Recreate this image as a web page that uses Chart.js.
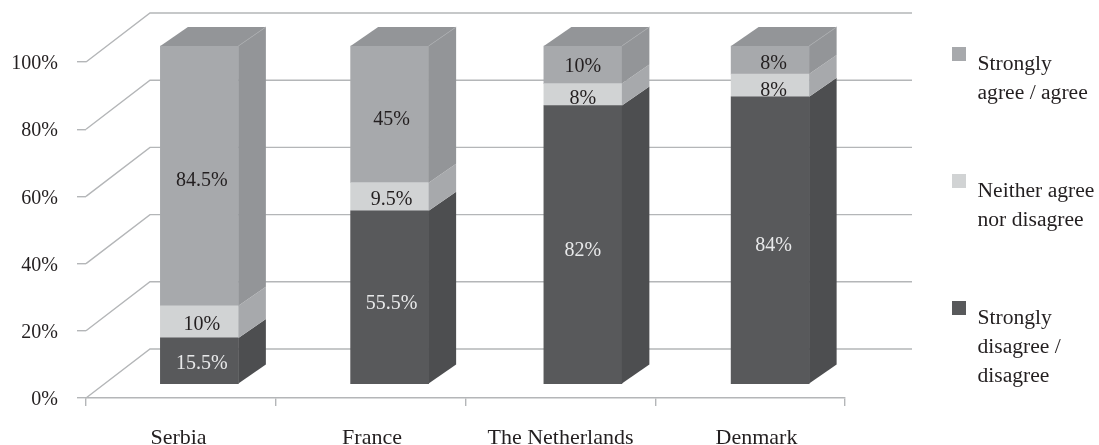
<!DOCTYPE html>
<html>
<head>
<meta charset="utf-8">
<script src="https://cdn.jsdelivr.net/npm/chart.js@4"></script>
<style>html,body{margin:0;padding:0;background:#fff}canvas{display:block}</style>
</head>
<body>
<canvas id="c" width="1099" height="445"></canvas>
<script>
// Categories and printed labels
const categories = ["Serbia", "France", "The Netherlands", "Denmark"];
const seriesNames = ["Strongly disagree / disagree", "Neither agree nor disagree", "Strongly agree / agree"];
const disagreeLabels = ["15.5%", "55.5%", "82%", "84%"];
const neitherLabels = ["10%", "9.5%", "8%", "8%"];
const agreeLabels = ["84.5%", "45%", "10%", "8%"];
// Bar segment heights as drawn on the 100% axis
const disagreeValues = [13.7, 51.3, 82.4, 85.0];
const neitherValues = [9.5, 8.3, 6.5, 6.7];
const agreeValues = [76.8, 40.4, 11.1, 8.3];
const yTicks = [0, 20, 40, 60, 80, 100];

const FONT = '"Liberation Serif", serif';
const TEXT = '#231f20';
const GRID = '#b4b6b8';
const depth = {x: 27.5, y: -19};          // bar depth
const wall = {x: 64, y: -49, right: 912}; // chart wall depth
const front = {k: 338.3 / 336, bottom: 384.3}; // front plane mapping of bars
const barNudge = [18.5, 19, 22.5, 20];
const xLabelCentre = [178.5, 372, 560.5, 756.5];
const labelDx = [2.5, 2, 0, 3.5];
const labelDy = [[2.5, 6.5, 6, 5.5], [3, 3.3, 4, 5.6], [4.4, 5.8, 2.3, 4]];
const faces = [
  {front: '#58595b', side: '#4d4e50', text: '#e8e9ea'},
  {front: '#d1d3d4', side: '#a7a9ac', text: TEXT},
  {front: '#a7a9ac', side: '#939598', text: TEXT, top: '#939598'}
];
const valueLabels = [disagreeLabels, neitherLabels, agreeLabels];
const legendRows = [
  {face: 2, y: 47, lines: ["Strongly", "agree / agree"]},
  {face: 1, y: 174, lines: ["Neither agree", "nor disagree"]},
  {face: 0, y: 301, lines: ["Strongly", "disagree /", "disagree"]}
];

function poly(ctx, pts, fill) {
  ctx.beginPath();
  pts.forEach((p, i) => i ? ctx.lineTo(p[0], p[1]) : ctx.moveTo(p[0], p[1]));
  ctx.closePath();
  ctx.fillStyle = fill;
  ctx.fill();
}

const threeD = {
  id: 'threeD',
  afterDatasetsUpdate(chart) {
    const zero = chart.scales.y.getPixelForValue(0);
    const f = front.bottom - zero * front.k;
    chart.data.datasets.forEach((d, di) => {
      chart.getDatasetMeta(di).data.forEach((el, i) => {
        el.x += barNudge[i];
        el.y = el.y * front.k + f;
        el.base = el.base * front.k + f;
      });
    });
  },
  beforeDraw(chart) {
    // place the library's tick labels where the reference has them
    chart.scales.y.getLabelItems().forEach(it => { it.options.translation[1] += 2; });
    chart.scales.x.getLabelItems().forEach((it, i) => {
      it.options.translation[0] = xLabelCentre[i];
      it.options.translation[1] = 425;
    });
  },
  beforeDatasetsDraw(chart) {
    const {ctx, chartArea: a, scales: {y}} = chart;
    ctx.save();
    ctx.strokeStyle = GRID;
    ctx.lineWidth = 1.4;
    yTicks.forEach(v => {
      const py = y.getPixelForValue(v);
      ctx.beginPath();
      ctx.moveTo(a.left, py);
      ctx.lineTo(a.left + wall.x, py + wall.y);
      ctx.lineTo(wall.right, py + wall.y);
      ctx.stroke();
    });
    ctx.restore();
  },
  afterDatasetsDraw(chart) {
    const {ctx} = chart;
    ctx.save();
    const n = chart.data.datasets.length;
    chart.data.datasets.forEach((d, di) => {
      const style = faces[di];
      chart.getDatasetMeta(di).data.forEach(el => {
        const r = el.x + el.width / 2;
        poly(ctx, [[r, el.base], [r + depth.x, el.base + depth.y], [r + depth.x, el.y + depth.y], [r, el.y]], style.side);
        if (di === n - 1) {
          const l = el.x - el.width / 2;
          poly(ctx, [[l, el.y], [l + depth.x, el.y + depth.y], [r + depth.x, el.y + depth.y], [r, el.y]], style.top);
          ctx.strokeStyle = '#a7a9ac';
          ctx.lineWidth = 0.8;
          ctx.beginPath();
          ctx.moveTo(r, el.y);
          ctx.lineTo(r + depth.x, el.y + depth.y);
          ctx.stroke();
        }
      });
    });
    ctx.font = '20px ' + FONT;
    ctx.textAlign = 'center';
    ctx.textBaseline = 'middle';
    chart.data.datasets.forEach((d, di) => {
      ctx.fillStyle = faces[di].text;
      chart.getDatasetMeta(di).data.forEach((el, i) => {
        ctx.fillText(valueLabels[di][i], el.x + labelDx[i], (el.y + el.base) / 2 + labelDy[di][i]);
      });
    });
    ctx.font = '21.6px ' + FONT;
    ctx.textAlign = 'left';
    legendRows.forEach(row => {
      ctx.fillStyle = faces[row.face].front;
      ctx.fillRect(952, row.y, 14, 14);
      ctx.fillStyle = TEXT;
      row.lines.forEach((t, j) => ctx.fillText(t, 977.5, row.y + 17 + j * 29));
    });
    ctx.restore();
  }
};

new Chart(document.getElementById('c'), {
  type: 'bar',
  data: {
    labels: categories,
    datasets: [disagreeValues, neitherValues, agreeValues].map((values, i) => ({
      label: seriesNames[i],
      data: values,
      backgroundColor: faces[i].front,
      borderWidth: 0,
      barThickness: 78,
      clip: false
    }))
  },
  options: {
    responsive: false,
    animation: false,
    events: [],
    layout: {padding: {left: 0, top: 62, right: 254, bottom: 0}},
    plugins: {legend: {display: false}, tooltip: {enabled: false}, title: {display: false}},
    scales: {
      x: {
        stacked: true,
        afterFit(s) { s.height = 47; },
        ticks: {display: true, autoSkip: false, maxRotation: 0, color: TEXT, font: {family: FONT, size: 22}},
        border: {display: true, color: GRID, width: 1.4},
        grid: {display: true, drawOnChartArea: false, drawTicks: true, tickLength: 8, color: GRID, lineWidth: 1.4}
      },
      y: {
        stacked: true,
        min: 0,
        max: 100,
        afterFit(s) { s.width = 86; },
        afterBuildTicks(s) { s.ticks = yTicks.map(v => ({value: v})); },
        ticks: {
          padding: 19,
          color: TEXT,
          font: {family: FONT, size: 20},
          callback: v => v + '%'
        },
        border: {display: false},
        grid: {display: true, drawOnChartArea: false, drawTicks: true, tickLength: 9, color: GRID, lineWidth: 1.4}
      }
    }
  },
  plugins: [threeD]
});
</script>
</body>
</html>
